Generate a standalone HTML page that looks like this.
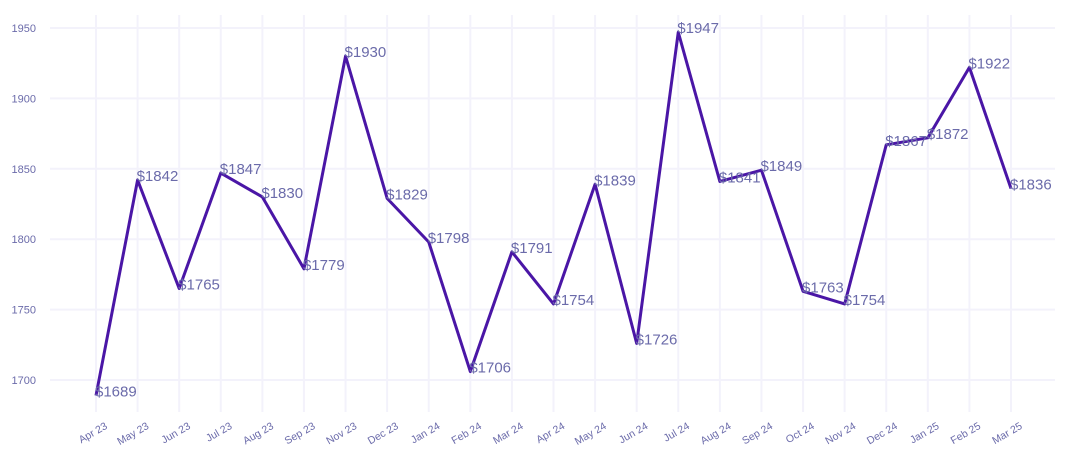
<!DOCTYPE html>
<html><head><meta charset="utf-8"><style>
body{margin:0;background:#fff;font-family:"Liberation Sans",sans-serif}
</style></head><body>
<svg id="c" width="1070" height="465"></svg>
<script>
const categories=["Apr 23","May 23","Jun 23","Jul 23","Aug 23","Sep 23","Nov 23","Dec 23","Jan 24","Feb 24","Mar 24","Apr 24","May 24","Jun 24","Jul 24","Aug 24","Sep 24","Oct 24","Nov 24","Dec 24","Jan 25","Feb 25","Mar 25"];
const values=[1689,1842,1765,1847,1830,1779,1930,1829,1798,1706,1791,1754,1839,1726,1947,1841,1849,1763,1754,1867,1872,1922,1836];
const yTicks=[1700,1750,1800,1850,1900,1950];
const svg=document.getElementById('c');
const NS='http://www.w3.org/2000/svg';
const x=i=>96+i*(1011-96)/(categories.length-1);
const y=v=>380-(v-1700)*352/250;
function mk(t,a,p){const e=document.createElementNS(NS,t);for(const k in a)e.setAttribute(k,a[k]);(p||svg).appendChild(e);return e;}
yTicks.forEach(t=>{
 const g=mk('line',{x1:50,x2:1055,y1:y(t),y2:y(t),stroke:'#f3f2fb','stroke-width':2});
 
 
 const l=mk('text',{x:36,y:y(t)+4,'text-anchor':'end','font-size':11,fill:'#6b6baa'});
 l.textContent=t;
 
 
});
categories.forEach((c,i)=>{
 const g=mk('line',{x1:x(i),x2:x(i),y1:15,y2:412,stroke:'#f3f2fb','stroke-width':2});
 
 
 const l=mk('text',{x:x(i)+12,y:428,'text-anchor':'end','font-size':10.5,fill:'#6b6baa',transform:`rotate(-30 ${x(i)+12} 428)`});
 l.textContent=c;
 
 
});
const pl=mk('polyline',{points:values.map((v,i)=>x(i)+','+y(v)).join(' '),fill:'none',stroke:'#4a16a6','stroke-width':3,'stroke-linejoin':'round'});


values.forEach((v,i)=>{
 const l=mk('text',{x:x(i)-1,y:y(v)+1,'font-size':15,fill:'#6b6baa'});
 l.textContent='$'+v;
 
 
});
</script>
</body></html>
